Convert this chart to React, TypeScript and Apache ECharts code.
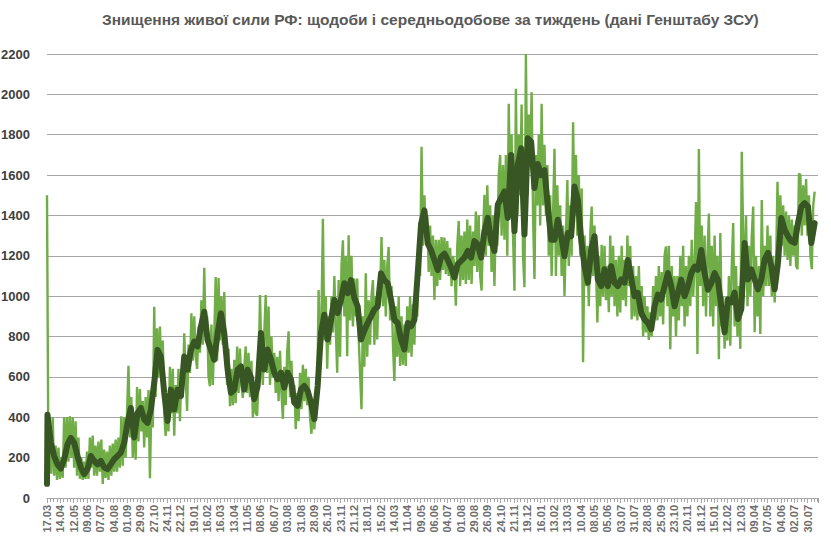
import React, { useEffect, useRef } from 'react';
import * as echarts from 'echarts';

const TITLE = 'Знищення живої сили РФ: щодоби і середньодобове за тиждень (дані Генштабу ЗСУ)';

// Tick labels: one every 28 days, starting 17.03
const X_LABELS = [
  '17.03', '14.04', '12.05', '09.06', '07.07', '04.08', '01.09', '29.09', '27.10', '24.11',
  '22.12', '19.01', '16.02', '16.03', '13.04', '11.05', '08.06', '06.07', '03.08', '31.08',
  '28.09', '26.10', '23.11', '21.12', '18.01', '15.02', '14.03', '11.04', '09.05', '06.06',
  '04.07', '01.08', '29.08', '26.09', '24.10', '21.11', '19.12', '16.01', '13.02', '13.03',
  '10.04', '08.05', '05.06', '03.07', '31.07', '28.08', '25.09', '23.10', '20.11', '18.12',
  '15.01', '12.02', '12.03', '09.04', '07.05', '04.06', '02.07', '30.07',
];
const LABEL_STEP_DAYS = 28;
const X_MAX_DAYS = 1618;

const Y_MAX = 2200;
const Y_STEP = 200;

// Daily losses (one value every 3 days)
const DAILY_STEP_DAYS = 3;
const DAILY = [
  1500, 150, 300, 120, 400, 110, 260,
  90, 250, 95, 200, 100, 400, 150,
  400, 180, 405, 200, 400, 150, 380,
  110, 300, 95, 200, 90, 180, 95,
  230, 95, 300, 150, 310, 110, 260,
  110, 280, 130, 290, 70, 240, 100,
  230, 90, 260, 110, 270, 130, 290,
  130, 300, 150, 405, 160, 400, 200,
  420, 655, 300, 500, 200, 420, 190,
  550, 280, 540, 330, 480, 250, 500,
  300, 535, 98, 450, 350, 947, 500,
  841, 600, 850, 620, 780, 420, 308,
  450, 330, 650, 420, 640, 308, 560,
  420, 640, 380, 620, 500, 816, 600,
  431, 760, 620, 915, 680, 900, 700,
  640, 850, 720, 980, 760, 1141, 800,
  900, 600, 554, 860, 560, 800, 1095,
  680, 1090, 780, 1000, 760, 1020, 700,
  560, 740, 455, 640, 460, 685, 470,
  751, 520, 740, 560, 496, 650, 751,
  520, 720, 500, 680, 398, 560, 420,
  408, 600, 1006, 700, 560, 820, 1006,
  620, 949, 560, 800, 600, 720, 520,
  700, 480, 730, 520, 392, 650, 460,
  720, 826, 500, 680, 470, 560, 342,
  520, 380, 620, 440, 660, 480, 640,
  460, 600, 400, 318, 480, 340, 440,
  500, 1031, 640, 900, 1384, 780, 1000,
  640, 900, 760, 1000, 820, 1100, 840,
  621, 1080, 700, 1150, 1277, 900, 1200,
  703, 1302, 880, 1200, 850, 1088, 900,
  1088, 800, 620, 440, 900, 650, 1113,
  700, 980, 760, 1000, 1080, 760, 1000,
  785, 1050, 1000, 1293, 950, 1180, 900,
  1150, 1244, 880, 1050, 760, 580, 950,
  700, 1000, 654, 900, 660, 860, 654,
  950, 720, 1000, 700, 960, 760, 1000,
  900, 1250, 1100, 1740, 1250, 1500, 1300,
  1400, 1120, 1350, 1100, 1300, 982, 1280,
  1050, 1280, 1080, 1293, 1130, 1290, 1109,
  1273, 1100, 1240, 1050, 1200, 1150, 953,
  1250, 1372, 1050, 1300, 1080, 1320, 1060,
  1380, 1080, 1350, 1060, 1320, 1150, 1420,
  1120, 1400, 1100, 1027, 1300, 1503, 1200,
  1550, 1250, 1450, 1120, 1400, 1050, 1380,
  1250, 1600, 1700, 1300, 1650, 1280, 1700,
  1200, 1954, 1500, 1800, 1300, 1027, 2028,
  1400, 1800, 1500, 1950, 1200, 1044, 2200,
  1500, 1900, 1650, 2011, 1400, 1085, 1700,
  1450, 1800, 1350, 1953, 1450, 1750, 1400,
  1650, 1200, 1500, 1100, 1400, 1731, 1100,
  1550, 1200, 1450, 1100, 1350, 1001, 1300,
  1575, 1150, 1450, 1200, 1862, 1400, 1700,
  1300, 1600, 1200, 1534, 673, 1300, 1050,
  1250, 950, 1300, 1444, 1100, 1350, 1150,
  870, 1200, 950, 1255, 1000, 1250, 980,
  1150, 920, 1300, 1000, 1250, 950, 1180,
  900, 1200, 919, 1250, 980, 1180, 950,
  1300, 1050, 1250, 885, 1150, 900, 1100,
  880, 1150, 900, 1050, 800, 1000, 820,
  950, 783, 920, 800, 1050, 880, 1100,
  880, 1150, 900, 1120, 860, 1200, 1246,
  950, 1250, 737, 1150, 900, 1100, 800,
  1100, 880, 1200, 950, 1250, 850, 1150,
  900, 1200, 950, 1280, 1000, 1150, 1467,
  713, 1729, 1050, 1350, 950, 1300, 900,
  1200, 1410, 900, 1250, 850, 1300, 950,
  1200, 688, 1313, 850, 1000, 740, 950,
  780, 1100, 755, 1150, 1362, 850, 1150,
  800, 1050, 739, 1715, 1300, 1100, 1400,
  950, 1250, 1000, 1300, 1444, 821, 1200,
  900, 1150, 813, 1477, 1000, 1250, 1050,
  1350, 1050, 1300, 1000, 1200, 969, 1150,
  1567, 1200, 1500, 1250, 1450, 1200, 1420,
  1180, 1400, 1150, 1380, 1200, 1350, 1150,
  1134, 1608, 1600, 1300, 1550, 1350, 1580,
  1300, 1500, 1200, 1134, 1450, 1518,
];

// 7-day average (one value per week, from day 1), plus its first value at day 0
const WEEKLY_FIRST = 70;
const WEEKLY_OFFSET_DAYS = 1;
const WEEKLY_STEP_DAYS = 7;
const WEEKLY_AVG = [
  413, 274, 208, 167, 146, 192, 266, 298, 274, 208, 151, 118, 143, 208, 184, 167,
  184, 151, 143, 167, 192, 208, 225, 274, 372, 446, 300, 421, 446, 389, 372,
  439, 570, 734, 701, 521, 382, 537, 439, 537, 505, 701, 636, 734, 775, 751, 849,
  923, 783, 734, 685, 816, 915, 816, 636, 521, 537, 636, 652, 537, 636, 600, 490,
  555, 818, 637, 736, 687, 621, 588, 621, 547, 621, 588, 473, 457, 539, 555, 531,
  473, 391, 555, 818, 908, 785, 883, 982, 916, 982, 1064, 1015, 1080, 990, 950,
  785, 830, 867, 900, 933, 949, 1113, 1080, 1064, 982, 883, 867, 785, 736, 867,
  851, 883, 1113, 1359, 1425, 1260, 1228, 1179, 1129, 1195, 1211, 1180,
  1142, 1093, 1159, 1175, 1191, 1224, 1191, 1273, 1257, 1191, 1323, 1388, 1273,
  1224, 1454, 1487, 1519, 1388, 1700, 1323, 1651, 1733, 1306, 1782, 1765, 1536,
  1655, 1600,
  1625, 1444, 1280, 1280, 1379, 1297, 1198, 1313, 1297, 1543, 1477, 1280, 1149,
  1067, 1231, 1297, 1083, 1050, 1133, 1050, 1149, 1067, 1050, 1083, 1067, 1180, 1090,
  1000, 1016, 918, 885, 868, 836, 950, 1008, 983, 1049, 1114, 1049, 950, 1016,
  1082, 1000, 1049, 1114, 1147, 1131, 1229, 1114, 1032, 1065, 1114, 1080, 950,
  821, 985, 969, 1018, 887, 936, 1264, 1083, 1133, 1083, 1034, 1083, 1182, 1215,
  1149, 1034, 1165, 1387, 1329, 1297, 1272, 1264, 1362, 1444, 1461, 1444, 1264, 1362,
];

const FONT = "'Liberation Sans', Arial, sans-serif";

export default function App() {
  const ref = useRef<HTMLDivElement>(null);

  useEffect(() => {
    if (!ref.current) return;
    const chart = echarts.init(ref.current, null, { renderer: 'svg' });
    const daily = DAILY.map((v, i) => [i * DAILY_STEP_DAYS, v]);
    const weekly = [
      [0, WEEKLY_FIRST],
      ...WEEKLY_AVG.map((v, i) => [WEEKLY_OFFSET_DAYS + i * WEEKLY_STEP_DAYS, v]),
    ];
    chart.setOption({
      animation: false,
      backgroundColor: '#ffffff',
      title: {
        text: TITLE,
        left: 97,
        top: 6,
        textStyle: { fontFamily: FONT, fontWeight: 'bold', fontSize: 15.5, color: '#595959' },
      },
      grid: {
        left: 47,
        right: 13,
        top: 54,
        bottom: 46,
        containLabel: false,
        outerBoundsMode: 'none',
      },
      xAxis: {
        type: 'value',
        min: 0,
        max: X_MAX_DAYS,
        interval: LABEL_STEP_DAYS,
        axisLine: { show: true, lineStyle: { color: '#A6A6A6', width: 1 } },
        axisTick: { show: true, length: 5, lineStyle: { color: '#A6A6A6' } },
        minorTick: { show: true, splitNumber: 4, length: 4, lineStyle: { color: '#A6A6A6' } },
        splitLine: { show: false },
        axisLabel: {
          rotate: 90,
          fontFamily: FONT,
          fontSize: 11,
          fontWeight: 'bold',
          color: '#6E6E6E',
          margin: 7,
          showMaxLabel: false,
          hideOverlap: false,
          formatter: (v: number) => {
            const i = v / LABEL_STEP_DAYS;
            const r = Math.round(i);
            return Math.abs(i - r) < 1e-6 && X_LABELS[r] ? X_LABELS[r] : '';
          },
        },
      },
      yAxis: {
        type: 'value',
        min: 0,
        max: Y_MAX,
        interval: Y_STEP,
        axisLine: { show: false },
        axisTick: { show: false },
        splitLine: { lineStyle: { color: '#A6A6A6', width: 1 } },
        axisLabel: {
          fontFamily: FONT,
          fontWeight: 'bold',
          fontSize: 13,
          color: '#404040',
          margin: 17,
          formatter: (v: number) => String(v),
        },
      },
      series: [
        {
          type: 'line',
          data: daily,
          symbol: 'none',
          lineStyle: { color: '#70AD47', width: 2.4 },
          z: 2,
        },
        {
          type: 'line',
          data: weekly,
          symbol: 'none',
          lineStyle: { color: '#375623', width: 6, join: 'round', cap: 'round' },
          z: 3,
        },
      ],
    });
    return () => chart.dispose();
  }, []);

  return (
    <div
      ref={ref}
      style={{ position: 'absolute', left: 0, top: 0, width: 831, height: 544 }}
    />
  );
}
